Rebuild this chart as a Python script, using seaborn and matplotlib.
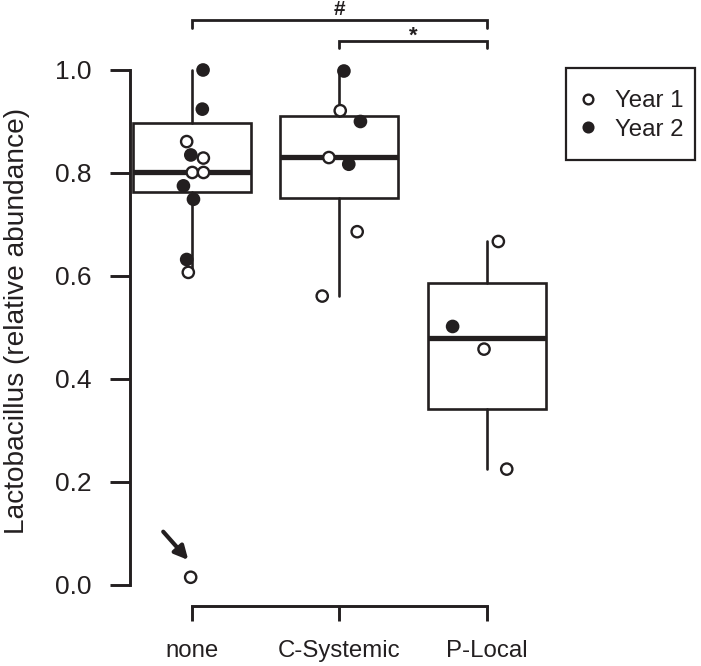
import matplotlib
matplotlib.use("Agg")
import matplotlib.pyplot as plt
from matplotlib.lines import Line2D
from matplotlib.patches import Rectangle
import numpy as np
import pandas as pd
import seaborn as sns

# treatment groups and box summaries
groups = ["none", "C-Systemic", "P-Local"]
box_q1 = [0.763, 0.752, 0.342]
box_med = [0.802, 0.832, 0.480]
box_q3 = [0.897, 0.911, 0.586]
whisk_lo = [0.610, 0.562, 0.225]
whisk_hi = [1.000, 1.000, 0.667]

# individual samples: group, year, value, horizontal jitter (category units)
pt_group = ["none"] * 12 + ["C-Systemic"] * 7 + ["P-Local"] * 4
pt_year = ["Year 2", "Year 2", "Year 1", "Year 2", "Year 1", "Year 1",
           "Year 1", "Year 2", "Year 2", "Year 2", "Year 1", "Year 1",
           "Year 2", "Year 1", "Year 2", "Year 1", "Year 2", "Year 1", "Year 1",
           "Year 1", "Year 2", "Year 1", "Year 1"]
pt_value = [1.000, 0.924, 0.861, 0.835, 0.829, 0.801, 0.801, 0.775, 0.749,
            0.632, 0.607, 0.015,
            0.998, 0.921, 0.900, 0.830, 0.817, 0.686, 0.561,
            0.667, 0.502, 0.458, 0.225]
pt_jitter = [0.075, 0.070, -0.036, -0.008, 0.077, 0.002, 0.078, -0.058, 0.010,
             -0.036, -0.025, -0.009,
             0.030, 0.005, 0.142, -0.072, 0.063, 0.120, -0.117,
             0.077, -0.233, -0.020, 0.134]

year_order = ["Year 1", "Year 2"]
INK = "#231f20"

df = pd.DataFrame({"group": pt_group, "year": pt_year,
                   "value": pt_value, "jitter": pt_jitter})
df["x"] = df["group"].map({g: i + 1 for i, g in enumerate(groups)}) + df["jitter"]

sns.set_theme(style="white")
plt.rcParams["font.family"] = ["Liberation Sans", "DejaVu Sans"]

W, H = 701, 666
fig = plt.figure(figsize=(W / 100, H / 100), dpi=100)
ax = fig.add_axes([0, 0, 1, 1])

stats = [dict(label=g, q1=q1, med=m, q3=q3, whislo=lo, whishi=hi, fliers=[])
         for g, q1, m, q3, lo, hi in zip(groups, box_q1, box_med, box_q3,
                                         whisk_lo, whisk_hi)]
ax.bxp(stats, positions=[1, 2, 3], widths=0.8, showcaps=False,
       showfliers=False, patch_artist=True,
       boxprops=dict(facecolor="white", edgecolor=INK, linewidth=1.9),
       whiskerprops=dict(color=INK, linewidth=1.9),
       medianprops=dict(color=INK, linewidth=3.8, solid_capstyle="butt"))

sns.scatterplot(data=df, x="x", y="value", hue="year", hue_order=year_order,
                palette={"Year 1": "white", "Year 2": INK},
                edgecolor=INK, linewidth=1.7, s=66, legend=False,
                zorder=4, ax=ax)

# map data coords onto the picture's pixel grid
ax.set_xlim(-0.3017, 4.451)
ax.set_ylim(-0.1573, 1.1359)
ax.set_xlabel("")
ax.set_ylabel("")

for side in ["top", "right"]:
    ax.spines[side].set_visible(False)
ax.spines["left"].set_position(("data", 0.58))
ax.spines["left"].set_bounds(0, 1)
ax.spines["bottom"].set_position(("data", -0.041))
ax.spines["bottom"].set_bounds(1, 3)
for side in ["left", "bottom"]:
    ax.spines[side].set_color(INK)
    ax.spines[side].set_linewidth(2.1)

ax.set_xticks([1, 2, 3])
ax.set_xticklabels(groups)
ax.set_yticks(np.arange(0, 1.01, 0.2))
ax.set_yticklabels([f"{v:.1f}" for v in np.arange(0, 1.01, 0.2)])
ax.tick_params(axis="y", length=14.5, width=2.1, color=INK, labelcolor=INK,
               labelsize=19, pad=13.5, left=True, direction="out")
ax.tick_params(axis="x", length=11, width=2.1, color=INK, labelcolor=INK,
               labelsize=17.3, pad=13.5, bottom=True, direction="out")

ax.text(17 / W, 1 - 321 / H, "Lactobacillus (relative abundance)",
        rotation=90, transform=ax.transAxes, ha="center", va="center",
        fontsize=20.2, color=INK)

# significance brackets
ax.plot([1, 1, 3, 3], [1.082, 1.097, 1.097, 1.082], color=INK, lw=2.0,
        solid_joinstyle="miter")
ax.plot([2, 2, 3, 3], [1.042, 1.057, 1.057, 1.042], color=INK, lw=2.0,
        solid_joinstyle="miter")
ax.text(2, 1.118, "#", ha="center", va="center", fontsize=15,
        fontweight="bold", color=INK)
ax.text(2.5, 1.066, "*", ha="center", va="center", fontsize=16,
        fontweight="bold", color=INK)

# arrow pointing at the low sample
ax.annotate("", xy=(0.975, 0.0485), xytext=(0.805, 0.1035),
            arrowprops=dict(arrowstyle="-|>", lw=3.0, color=INK,
                            mutation_scale=20, shrinkA=0, shrinkB=0))

# legend: entries without matplotlib's frame, plus an R-style box around them
handles = [Line2D([], [], marker="o", linestyle="", markersize=7,
                  markerfacecolor=fc, markeredgecolor=INK, markeredgewidth=1.7)
           for fc in ["white", INK]]
leg = ax.legend(handles, year_order, loc="upper left",
                bbox_to_anchor=(578 / W, 1 - 90 / H), fontsize=17.3,
                frameon=False, borderpad=0, handletextpad=0.73,
                handlelength=0.8, labelspacing=0.275, borderaxespad=0)
for t in leg.get_texts():
    t.set_color(INK)
fig.patches.append(Rectangle((566 / W, 1 - 160 / H), 129 / W, 92 / H,
                             transform=fig.transFigure, fill=False,
                             edgecolor=INK, linewidth=1.6, zorder=5))

fig.savefig("out.png", dpi=100)
plt.close(fig)
